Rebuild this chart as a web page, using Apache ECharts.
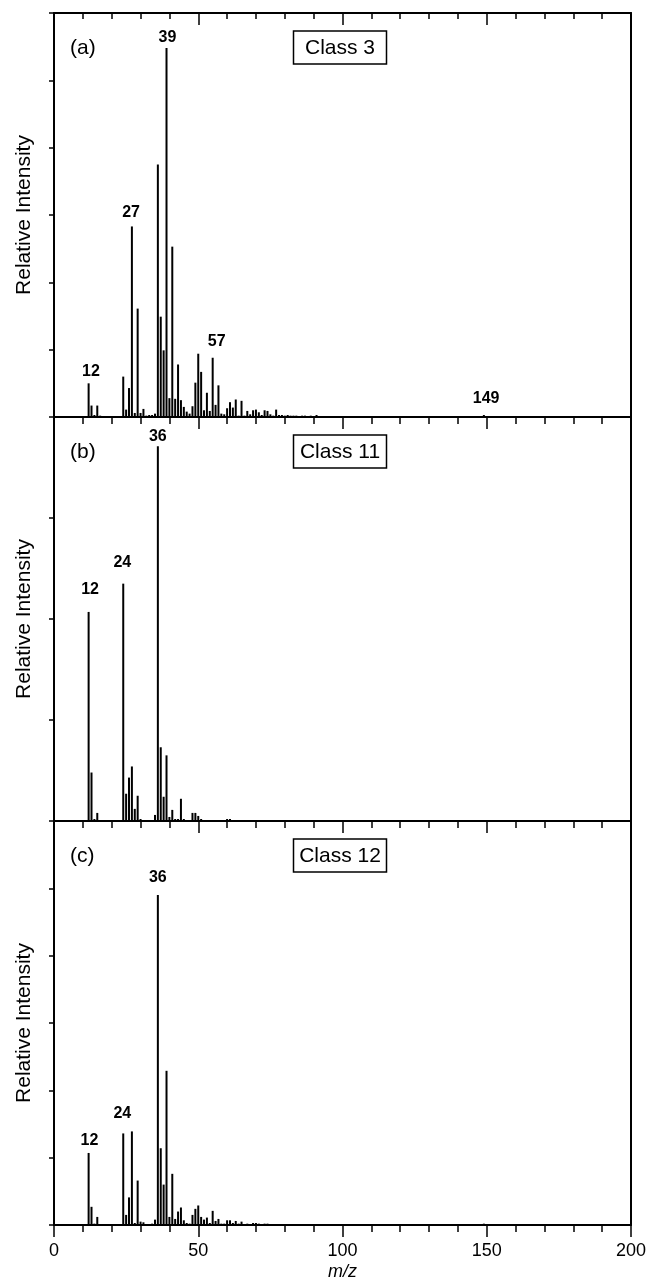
<!DOCTYPE html>
<html>
<head>
<meta charset="utf-8">
<script src="https://cdn.jsdelivr.net/npm/echarts@6/dist/echarts.min.js"></script>
<style>
  html, body { margin: 0; padding: 0; background: #fff; }
  #chart { width: 646px; height: 1284px; }
</style>
</head>
<body>
<div id="chart"></div>
<script>
// panel (a) - Class 3
var mzA = [12, 13, 14, 15, 16, 24, 25, 26, 27, 28, 29, 30, 31, 32, 33, 34, 35, 36, 37, 38, 39, 40, 41, 42, 43, 44, 45, 46, 47, 48, 49, 50, 51, 52, 53, 54, 55, 56, 57, 58, 59, 60, 61, 62, 63, 64, 65, 66, 67, 68, 69, 70, 71, 72, 73, 74, 75, 76, 77, 78, 79, 80, 81, 82, 83, 84, 85, 86, 87, 89, 90, 91, 149];
var intA = [0.50, 0.17, 0.03, 0.17, 0.02, 0.60, 0.11, 0.43, 2.83, 0.06, 1.61, 0.06, 0.12, 0.02, 0.03, 0.03, 0.05, 3.75, 1.49, 0.99, 5.48, 0.28, 2.53, 0.27, 0.78, 0.25, 0.15, 0.08, 0.05, 0.16, 0.51, 0.94, 0.67, 0.10, 0.36, 0.09, 0.88, 0.18, 0.47, 0.05, 0.04, 0.13, 0.22, 0.14, 0.26, 0.02, 0.24, 0.02, 0.09, 0.04, 0.10, 0.11, 0.07, 0.03, 0.10, 0.09, 0.04, 0.02, 0.11, 0.03, 0.03, 0.02, 0.03, 0.02, 0.02, 0.02, 0.01, 0.02, 0.02, 0.02, 0.01, 0.03, 0.03];
var peakTextA = ["12", "27", "39", "57", "149"];
var peakXA = [12.8, 26.7, 39.3, 56.4, 149.8];
var peakYA = [0.68, 3.03, 5.64, 1.12, 0.27];

// panel (b) - Class 11
var mzB = [12, 13, 14, 15, 24, 25, 26, 27, 28, 29, 30, 31, 35, 36, 37, 38, 39, 40, 41, 42, 43, 44, 45, 48, 49, 50, 51, 52, 53, 55, 57, 60, 61];
var intB = [2.07, 0.48, 0.02, 0.08, 2.35, 0.27, 0.43, 0.54, 0.12, 0.25, 0.02, 0.01, 0.06, 3.71, 0.73, 0.24, 0.65, 0.04, 0.11, 0.02, 0.02, 0.22, 0.02, 0.08, 0.08, 0.05, 0.02, 0.01, 0.01, 0.01, 0.01, 0.02, 0.02];
var peakTextB = ["12", "24", "36"];
var peakXB = [12.5, 23.7, 36];
var peakYB = [2.29, 2.56, 3.81];

// panel (c) - Class 12
var mzC = [12, 13, 14, 15, 24, 25, 26, 27, 28, 29, 30, 31, 32, 34, 35, 36, 37, 38, 39, 40, 41, 42, 43, 44, 45, 46, 47, 48, 49, 50, 51, 52, 53, 54, 55, 56, 57, 58, 59, 60, 61, 62, 63, 64, 65, 67, 69, 70, 71, 73, 74, 77, 149];
var intC = [1.07, 0.27, 0.02, 0.12, 1.36, 0.15, 0.41, 1.39, 0.03, 0.66, 0.05, 0.04, 0.01, 0.02, 0.08, 4.90, 1.14, 0.60, 2.29, 0.12, 0.76, 0.09, 0.20, 0.26, 0.07, 0.03, 0.02, 0.15, 0.24, 0.29, 0.12, 0.08, 0.11, 0.03, 0.21, 0.06, 0.09, 0.02, 0.02, 0.07, 0.07, 0.03, 0.06, 0.02, 0.05, 0.02, 0.03, 0.03, 0.02, 0.02, 0.02, 0.01, 0.02];
var peakTextC = ["12", "24", "36"];
var peakXC = [12.3, 23.7, 36];
var peakYC = [1.25, 1.65, 5.16];

var xTicks = [0, 50, 100, 150, 200];
var yMax = [6, 4, 6];
var panelLetters = ["(a)", "(b)", "(c)"];
var classNames = ["Class 3", "Class 11", "Class 12"];

var FONT = "Liberation Sans, Arial, Helvetica, sans-serif";
var gridTops = [13, 417, 821];
var gridH = 404;

var panels = [
  { mz: mzA, val: intA, pt: peakTextA, px: peakXA, py: peakYA },
  { mz: mzB, val: intB, pt: peakTextB, px: peakXB, py: peakYB },
  { mz: mzC, val: intC, pt: peakTextC, px: peakXC, py: peakYC },
];

var grid = [], xAxis = [], yAxis = [], series = [], graphic = [];

panels.forEach(function (p, i) {
  var last = i === panels.length - 1;
  grid.push({
    left: 54,
    right: 15,
    top: gridTops[i],
    height: gridH,
    containLabel: false,
    outerBoundsMode: "none",
  });

  // bottom x axis
  xAxis.push({
    gridIndex: i,
    type: "value",
    position: "bottom",
    min: xTicks[0],
    max: xTicks[xTicks.length - 1],
    interval: xTicks[1] - xTicks[0],
    axisLine: { show: true, onZero: false, lineStyle: { color: "#000", width: 2 } },
    axisTick: { show: true, inside: false, length: 12, lineStyle: { color: "#000", width: 1.5 } },
    minorTick: { show: true, splitNumber: 5, length: 7, lineStyle: { color: "#000", width: 1.5 } },
    axisLabel: { show: last, margin: 17, fontSize: 18, color: "#000", fontFamily: FONT },
    splitLine: { show: false },
    minorSplitLine: { show: false },
    name: last ? "m/z" : "",
    nameLocation: "middle",
    nameGap: 38,
    nameTextStyle: { fontSize: 18, fontStyle: "italic", color: "#000", fontFamily: FONT },
  });
  // top x axis
  xAxis.push({
    gridIndex: i,
    type: "value",
    position: "top",
    min: xTicks[0],
    max: xTicks[xTicks.length - 1],
    interval: xTicks[1] - xTicks[0],
    axisLine: { show: true, onZero: false, lineStyle: { color: "#000", width: 2 } },
    axisTick: { show: i === 0, inside: true, length: 12, lineStyle: { color: "#000", width: 1.5 } },
    minorTick: { show: i === 0, splitNumber: 5, length: 6, lineStyle: { color: "#000", width: 1.5 } },
    axisLabel: { show: false },
    splitLine: { show: false },
  });

  yAxis.push({
    gridIndex: i,
    type: "value",
    position: "left",
    min: 0,
    max: yMax[i],
    interval: 1,
    axisLine: { show: true, onZero: false, lineStyle: { color: "#000", width: 2 } },
    axisTick: { show: true, inside: false, length: 5, lineStyle: { color: "#000", width: 1.5 } },
    axisLabel: { show: false },
    splitLine: { show: false },
    name: "Relative Intensity",
    nameLocation: "middle",
    nameGap: 19,
    nameTextStyle: { fontSize: 21, color: "#000", fontFamily: FONT },
  });
  yAxis.push({
    gridIndex: i,
    type: "value",
    position: "right",
    min: 0,
    max: yMax[i],
    axisLine: { show: true, onZero: false, lineStyle: { color: "#000", width: 2 } },
    axisTick: { show: false },
    axisLabel: { show: false },
    splitLine: { show: false },
  });

  series.push({
    type: "bar",
    xAxisIndex: i * 2,
    yAxisIndex: i * 2,
    barWidth: 2,
    silent: true,
    itemStyle: { color: "#000" },
    data: p.mz.map(function (m, k) {
      return [m, p.val[k]];
    }),
  });

  series.push({
    type: "scatter",
    xAxisIndex: i * 2,
    yAxisIndex: i * 2,
    symbolSize: 1,
    silent: true,
    itemStyle: { color: "rgba(0,0,0,0)", opacity: 1 },
    label: {
      show: true,
      position: "inside",
      formatter: "{b}",
      fontSize: 16,
      fontWeight: "bold",
      color: "#000",
      opacity: 1,
      textBorderWidth: 0,
      fontFamily: FONT,
    },
    data: p.pt.map(function (t, k) {
      return { name: t, value: [p.px[k], p.py[k]] };
    }),
  });

  // panel letter
  graphic.push({
    type: "text",
    left: 70,
    top: gridTops[i] + 25,
    style: { text: panelLetters[i], font: "21px " + FONT, fill: "#000" },
  });
  // class box
  graphic.push({
    type: "rect",
    shape: { x: 293.5, y: gridTops[i] + 18, width: 93, height: 33 },
    style: { fill: "#fff", stroke: "#000", lineWidth: 1.5 },
    z: 10,
  });
  graphic.push({
    type: "text",
    x: 340,
    y: gridTops[i] + 35,
    style: {
      text: classNames[i],
      font: "21px " + FONT,
      fill: "#000",
      align: "center",
      verticalAlign: "middle",
    },
    z: 11,
  });
});

var myChart = echarts.init(document.getElementById("chart"));
var option = {
  animation: false,
  backgroundColor: "#fff",
  grid: grid,
  xAxis: xAxis,
  yAxis: yAxis,
  series: series,
  graphic: graphic,
};
option && myChart.setOption(option);
</script>
</body>
</html>
